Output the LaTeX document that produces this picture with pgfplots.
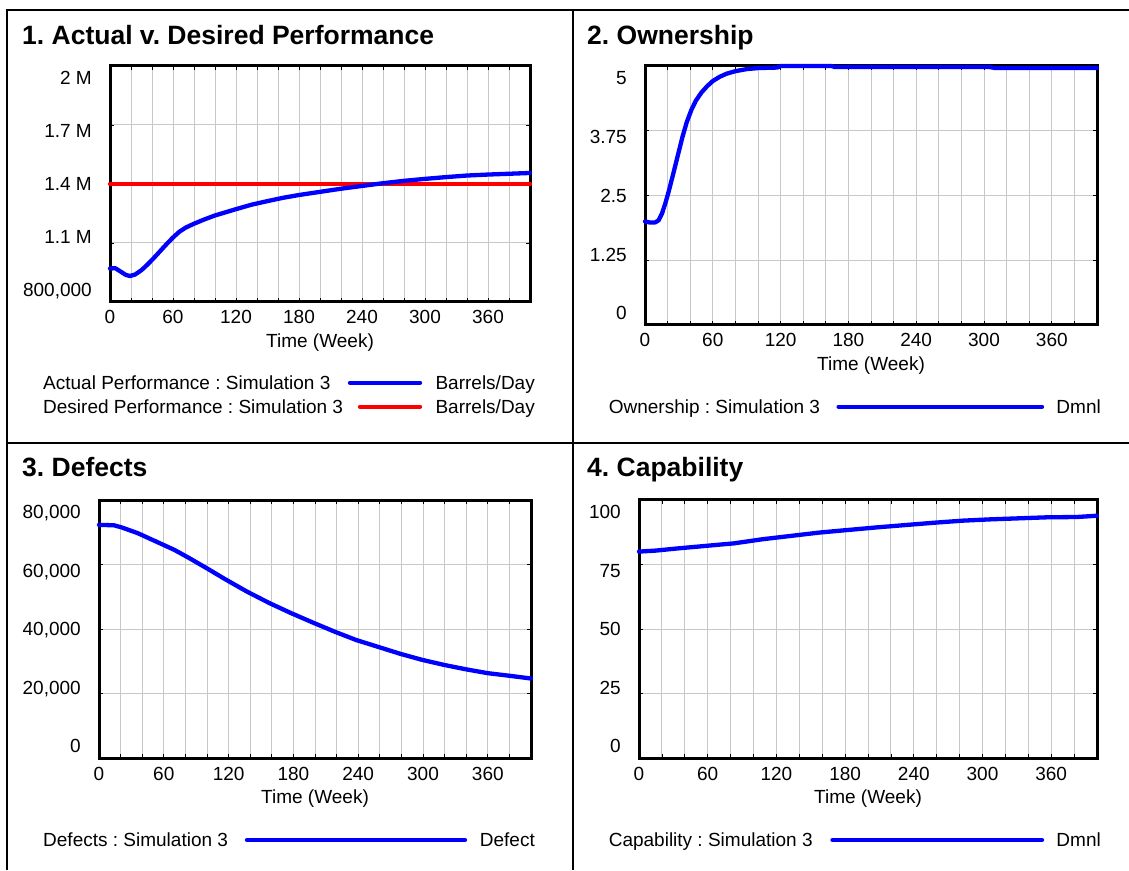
\documentclass[border=0pt]{standalone}
\usepackage{fontspec}
\setmainfont{Liberation Sans}
\usepackage{pgfplots}
\pgfplotsset{compat=1.18}
\frenchspacing
\newcommand\tickfont{\fontsize{19}{22}\selectfont}
\newcommand\titlefont{\fontsize{26.5}{30}\selectfont\bfseries}
\definecolor{gridgray}{RGB}{200,200,200}
\definecolor{vblue}{RGB}{0,0,255}
\definecolor{vred}{RGB}{255,0,0}
\pgfplotsset{vensim/.style={
  scale only axis, anchor=south west, xmin=0, xmax=400, clip=false,
  axis line style={line width=3pt, black},
  xtick={0,60,...,360}, xticklabels={0,60,120,180,240,300,360},
  minor xtick={20,40,...,380},
  xmajorgrids, xminorgrids, ymajorgrids,
  grid style={line width=1pt, gridgray},
  minor grid style={line width=1pt, gridgray},
  tick align=inside, tick pos=both,
  major tick length=4pt, minor tick length=4pt,
  tick style={black, line width=0.8pt},
  minor tick style={black, line width=0.8pt},
  scaled y ticks=false,
  yticklabels={},
  xticklabel style={anchor=base, yshift=-22pt, inner sep=0pt, font=\tickfont},
  yticklabel style={anchor=base east, xshift=-18pt, yshift=-6.8pt, inner sep=0pt, font=\tickfont},
  xlabel={Time (Week)},
  xlabel style={at={(axis description cs:0.5,0)}, anchor=base, yshift=-45.5pt, inner sep=0pt, font=\tickfont},
  extra y tick style={grid=none, major tick length=0pt, tick style={draw=none}},
  every axis plot/.append style={line width=4.3pt, line cap=round, line join=round},
}}
\pgfplotstableread{
t v
0 970000
5 972000
10 955000
15 938000
19 932000
24 940000
30 962000
36 992000
42 1025000
48 1060000
54 1095000
60 1128000
66 1157000
72 1178000
80 1198000
90 1220000
100 1240000
110 1256000
120 1272000
135 1295000
150 1313000
165 1330000
180 1344000
200 1360000
220 1376000
240 1390000
260 1404000
280 1416000
300 1426000
320 1435000
340 1443000
360 1448000
380 1452000
400 1456000
}\actualtab
\pgfplotstableread{
t v
0 2.0
4 1.98
9 1.98
12 2.02
15 2.15
18 2.35
21 2.58
25 2.92
29 3.27
33 3.62
37 3.92
41 4.15
45 4.33
50 4.49
55 4.61
60 4.71
66 4.79
72 4.85
80 4.90
90 4.94
100 4.96
117 4.97
120 5.0
165 5.0
168 4.98
305 4.98
310 4.96
400 4.96
}\owntab
\pgfplotstableread{
t v
0 72300
14 72150
21 71500
36 69700
53 67100
70 64500
84 61900
100 58800
117 55400
137 51600
158 48000
178 44900
198 42000
218 39200
238 36600
259 34400
279 32300
299 30450
319 28900
339 27550
360 26300
380 25500
400 24650
}\deftab
\pgfplotstableread{
t v
0 80.0
15 80.4
33 81.2
58 82.2
83 83.2
108 84.8
133 86.1
158 87.4
183 88.4
208 89.4
233 90.3
258 91.2
283 92.0
307 92.5
332 92.9
357 93.3
382 93.4
400 93.9
}\captab
\begin{document}
\begin{tikzpicture}
\path[use as bounding box] (0,0) rectangle (1129pt,870pt);
% panel borders
\draw[line width=2pt] (7pt,0pt) -- (7pt,860pt) -- (1129pt,860pt);
\draw[line width=2pt] (573pt,0pt) -- (573pt,860pt);
\draw[line width=2pt] (7pt,427pt) -- (1129pt,427pt);
% titles
\node[anchor=base west, font=\titlefont, inner sep=0pt] at (22pt,825.5pt) {1. Actual v. Desired Performance};
\node[anchor=base west, font=\titlefont, inner sep=0pt] at (587pt,825.5pt) {2. Ownership};
\node[anchor=base west, font=\titlefont, inner sep=0pt] at (22pt,393.5pt) {3. Defects};
\node[anchor=base west, font=\titlefont, inner sep=0pt] at (587pt,393.5pt) {4. Capability};

% Panel 1
\begin{axis}[vensim, at={(110pt,568pt)}, width=420pt, height=236pt,
  ymin=800000, ymax=2000000,
  ytick={800000,1100000,1400000,1700000,2000000},
  extra y ticks={861017,1130508,1400000,1669492,1938983},
  extra y tick labels={{800,000},1.1 M,1.4 M,1.7 M,2 M}]
\addplot[vred] coordinates {(0,1400000) (400,1400000)};
\addplot[vblue] table[x=t,y=v] {\actualtab};
\end{axis}

% Panel 2
\begin{axis}[vensim, at={(645pt,545pt)}, width=452pt, height=259pt,
  ymin=0, ymax=5,
  ytick={0,1.25,2.5,3.75,5},
  extra y ticks={0.232,1.366,2.5,3.634,4.768},
  extra y tick labels={0,1.25,2.5,3.75,5}]
\addplot[vblue] table[x=t,y=v] {\owntab};
\end{axis}

% Panel 3
\begin{axis}[vensim, at={(99pt,112pt)}, width=432pt, height=258pt,
  ymin=0, ymax=80000,
  ytick={0,20000,40000,60000,80000},
  extra y ticks={3721,21860,40000,58140,76279},
  extra y tick labels={0,{20,000},{40,000},{60,000},{80,000}}]
\addplot[vblue] table[x=t,y=v] {\deftab};
\end{axis}

% Panel 4
\begin{axis}[vensim, at={(639pt,112pt)}, width=458pt, height=258pt,
  ymin=0, ymax=100,
  ytick={0,25,50,75,100},
  extra y ticks={4.65,27.33,50,72.67,95.35},
  extra y tick labels={0,25,50,75,100}]
\addplot[vblue] table[x=t,y=v] {\captab};
\end{axis}

% legends
\begin{scope}[font=\tickfont]
\node[anchor=base west, inner sep=0pt] at (43pt,480.5pt) {Actual Performance : Simulation 3};
\draw[vblue, line width=4.3pt, line cap=round] (350pt,487.3pt) -- (420pt,487.3pt);
\node[anchor=base east, inner sep=0pt] at (535pt,480.5pt) {Barrels/Day};
\node[anchor=base west, inner sep=0pt] at (43pt,456.5pt) {Desired Performance : Simulation 3};
\draw[vred, line width=4.3pt, line cap=round] (360pt,463.3pt) -- (420pt,463.3pt);
\node[anchor=base east, inner sep=0pt] at (535pt,456.5pt) {Barrels/Day};

\node[anchor=base west, inner sep=0pt] at (608.6pt,456.5pt) {Ownership : Simulation 3};
\draw[vblue, line width=4.3pt, line cap=round] (838.6pt,463.3pt) -- (1042pt,463.3pt);
\node[anchor=base east, inner sep=0pt] at (1101pt,456.5pt) {Dmnl};

\node[anchor=base west, inner sep=0pt] at (43pt,23.2pt) {Defects : Simulation 3};
\draw[vblue, line width=4.3pt, line cap=round] (247pt,30pt) -- (465pt,30pt);
\node[anchor=base east, inner sep=0pt] at (535pt,23.2pt) {Defect};

\node[anchor=base west, inner sep=0pt] at (608.6pt,23.2pt) {Capability : Simulation 3};
\draw[vblue, line width=4.3pt, line cap=round] (832.5pt,30pt) -- (1042pt,30pt);
\node[anchor=base east, inner sep=0pt] at (1101pt,23.2pt) {Dmnl};
\end{scope}
\end{tikzpicture}
\end{document}
